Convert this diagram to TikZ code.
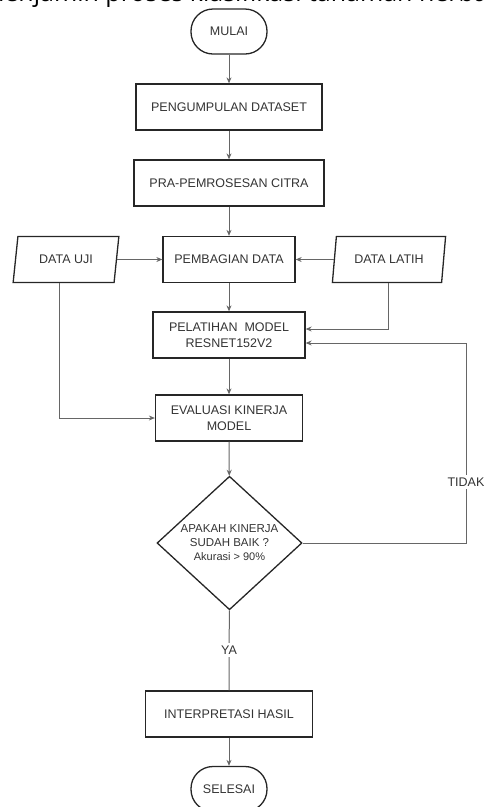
\documentclass[tikz,border=0pt]{standalone}
\usepackage{fontspec}
\setmainfont{Liberation Sans}
\newfontfamily\captionfont{Open Sans}
\usetikzlibrary{shapes.geometric,arrows.meta}

\begin{document}
\begin{tikzpicture}[x=1pt,y=-1pt,
        font=\fontsize{12.5}{16}\selectfont, text=black!80,
        proses/.style={draw=black!85,line width=1.3pt,minimum height=46pt,inner sep=0pt,align=center},
        terminal/.style={proses,rounded corners=22pt,minimum width=76pt,minimum height=45pt},
        dataio/.style={draw=black!85,line width=1.3pt,trapezium,trapezium left angle=73,trapezium right angle=107,trapezium stretches=true,minimum height=46pt,inner sep=0pt},
        keputusan/.style={draw=black!85,line width=1.3pt,diamond,minimum width=145pt,minimum height=128pt,inner sep=0pt,align=center,font=\fontsize{11.5}{14}\selectfont},
        garis/.style={draw=black!60,line width=1pt},
        panah/.style={garis,-{Stealth[length=6pt,width=5pt]}},
        label/.style={fill=white,inner sep=3pt}]
        \useasboundingbox (0,0) rectangle (484,807);
        \clip (0,0) rectangle (484,807);
        % cut-off caption line at the top
        \node[font=\captionfont\fontsize{25}{28}\selectfont,anchor=base west,text=black,inner sep=0pt] (judul) at (-19,1.5) {menjamin proses klasifikasi tanaman herbal};

        \node[terminal] (mulai) at (229,31.5) {MULAI};
        \node[proses,minimum width=186pt] (kumpul) at (229,107) {PENGUMPULAN DATASET};
        \node[proses,minimum width=190pt] (pra) at (229,183) {PRA-PEMROSESAN CITRA};
        \node[proses,minimum width=132pt] (bagi) at (229,259.5) {PEMBAGIAN DATA};
        \node[dataio,minimum width=106pt] (uji) at (66,259.5) {DATA UJI};
        \node[dataio,minimum width=114pt] (latih) at (389,259.5) {DATA LATIH};
        \node[proses,minimum width=152pt] (latihmodel) at (229,335) {PELATIHAN\ \ MODEL\\RESNET152V2};
        \node[proses,minimum width=147pt] (evaluasi) at (229,418) {EVALUASI KINERJA\\MODEL};
        \node[keputusan] (cek) at (229.5,543) {APAKAH KINERJA\\SUDAH BAIK ?\\{\fontsize{11}{14}\selectfont Akurasi > 90\%}};
        \node[proses,minimum width=167pt] (hasil) at (229,714) {INTERPRETASI HASIL};
        \node[terminal] (selesai) at (229,789) {SELESAI};

        \draw[panah] (mulai) -- (kumpul);
        \draw[panah] (kumpul) -- (pra);
        \draw[panah] (pra) -- (bagi);
        \draw[panah] (uji) -- (bagi);
        \draw[panah] (latih) -- (bagi);
        \draw[panah] (bagi) -- (latihmodel);
        \draw[panah] ([xshift=-7pt]uji.south) |- (evaluasi.west);
        \draw[panah] ([xshift=-1pt]latih.south) |- ([yshift=6pt]latihmodel.east);
        \draw[panah] (latihmodel) -- (evaluasi);
        \draw[panah] (evaluasi) -- (cek);
        \coordinate (balik) at (466,343);
        \draw[panah] (cek.east) -| (balik) -- (balik -| latihmodel.east);
        \draw[garis] (cek) -- (hasil);
        \draw[panah] (hasil) -- (selesai);
        \node[label] (tidak) at (466,482) {TIDAK};
        \node[label] (ya) at (229,650) {YA};
\end{tikzpicture}
\end{document}
